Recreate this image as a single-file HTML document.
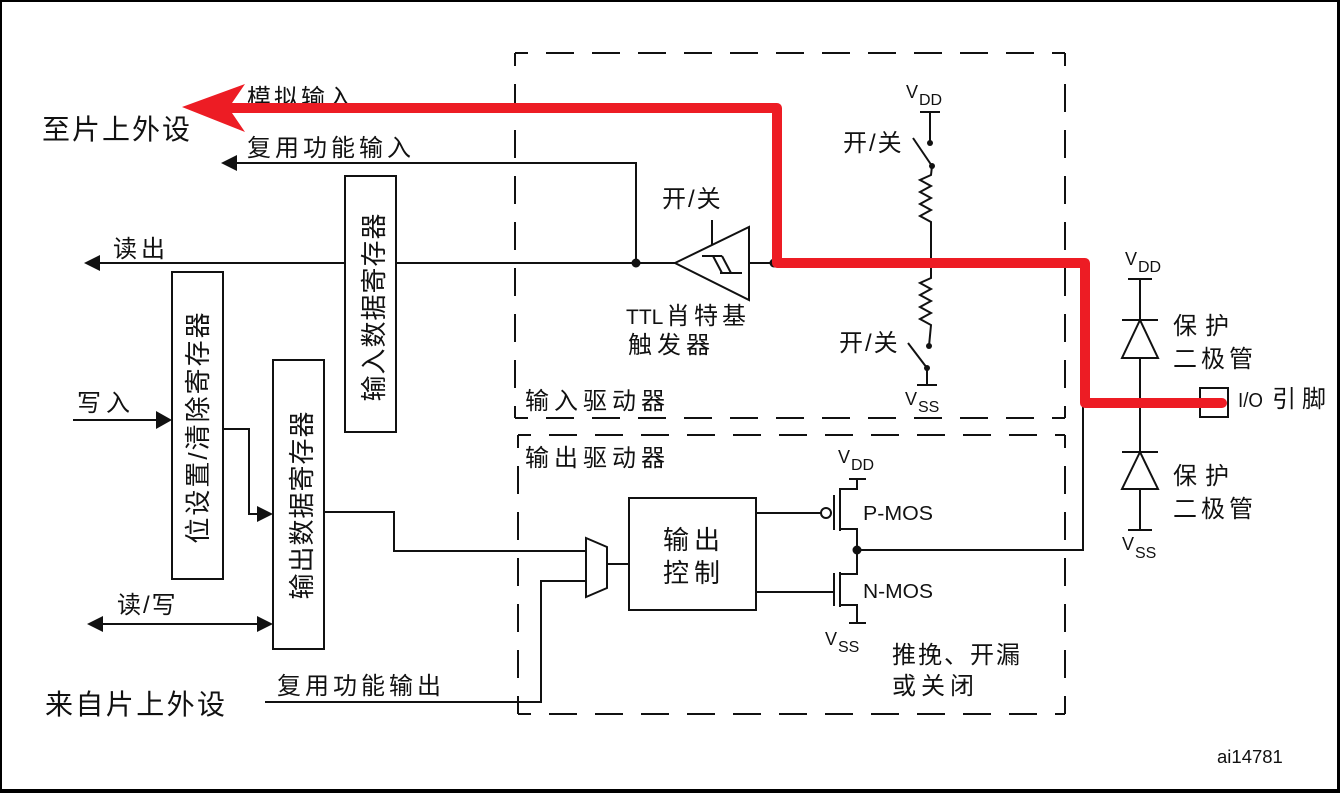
<!DOCTYPE html>
<html><head><meta charset="utf-8"><style>
html,body{margin:0;padding:0;background:#fff;}
svg{display:block;}
text{font-family:"Liberation Sans","Noto Sans CJK SC",sans-serif;fill:#111;}
.c{font-size:24px;}
.l{font-family:"Liberation Sans",sans-serif;}
</style></head><body>
<svg width="1340" height="793" viewBox="0 0 1340 793" xmlns="http://www.w3.org/2000/svg">
<rect x="0" y="0" width="1340" height="793" fill="#fff"/>
<!-- frame -->
<rect x="0" y="0" width="1340" height="2" fill="#000"/>
<rect x="0" y="0" width="2" height="793" fill="#000"/>
<rect x="1337" y="0" width="3" height="793" fill="#000"/>
<rect x="0" y="789" width="1340" height="4" fill="#000"/>

<g fill="none" stroke="#111" stroke-width="2">
<!-- dashed boxes -->
<g stroke-dasharray="28 18">
<line x1="515" y1="53" x2="1065" y2="53" stroke-dashoffset="15"/>
<line x1="515" y1="53" x2="515" y2="418" stroke-dashoffset="15"/>
<line x1="515" y1="418" x2="1065" y2="418" stroke-dashoffset="15"/>
<line x1="1065" y1="53" x2="1065" y2="418" stroke-dashoffset="15"/>
<line x1="518" y1="435" x2="1065" y2="435" stroke-dashoffset="15"/>
<line x1="518" y1="435" x2="518" y2="714" stroke-dashoffset="15"/>
<line x1="518" y1="714" x2="1065" y2="714" stroke-dashoffset="15"/>
<line x1="1065" y1="435" x2="1065" y2="714" stroke-dashoffset="15"/>
</g>
<!-- register boxes -->
<rect x="345" y="176" width="51" height="256"/>
<rect x="172" y="272" width="51" height="307"/>
<rect x="273" y="360" width="51" height="289"/>
<rect x="629" y="498" width="127" height="112"/>
<!-- wires -->
<polyline points="237,163 636,163 636,263"/>
<line x1="100" y1="263" x2="345" y2="263"/>
<line x1="396" y1="263" x2="675" y2="263"/>
<line x1="749" y1="263" x2="777" y2="263"/>
<line x1="73" y1="420" x2="156" y2="420"/>
<polyline points="223,429 249,429 249,514 257,514"/>
<line x1="103" y1="624" x2="257" y2="624"/>
<polyline points="324,512 394,512 394,551 586,551"/>
<polyline points="265,702 541,702 541,581 586,581"/>
<line x1="607" y1="564" x2="629" y2="564"/>
<!-- mux -->
<polygon points="586,538 607,547 607,588 586,597" fill="#fff"/>
<!-- schmitt trigger -->
<polygon points="675,263 749,227 749,300" fill="#fff"/>
<line x1="712" y1="220" x2="712" y2="245"/>
<polyline points="702,256 722,256"/>
<line x1="713" y1="256" x2="722" y2="273"/>
<line x1="722" y1="256" x2="731" y2="273"/>
<line x1="720" y1="273" x2="742" y2="273"/>
<!-- pull-up/down -->
<line x1="920" y1="112" x2="940" y2="112"/>
<line x1="930" y1="112" x2="930" y2="143"/>
<line x1="913" y1="138" x2="932" y2="166"/>
<polyline points="932,166 931,175 920,180 931,186 920,192 931,198 920,204 931,210 920,216 931,222 931,278 920,283 931,289 920,295 931,301 920,307 931,313 920,319 931,325 929,346"/>
<line x1="908" y1="343" x2="927" y2="368"/>
<line x1="927" y1="368" x2="927" y2="385"/>
<line x1="917" y1="385" x2="937" y2="385"/>
<!-- MOS -->
<line x1="756" y1="513" x2="821" y2="513"/>
<circle cx="826" cy="513" r="5" fill="#fff"/>
<line x1="834" y1="495" x2="834" y2="530"/>
<line x1="840" y1="488" x2="840" y2="531"/>
<polyline points="840,489 857,489 857,479"/>
<line x1="849" y1="479" x2="866" y2="479"/>
<polyline points="840,529 857,529 857,550"/>
<line x1="756" y1="592" x2="834" y2="592"/>
<line x1="834" y1="573" x2="834" y2="606"/>
<line x1="840" y1="572" x2="840" y2="607"/>
<polyline points="840,574 857,574 857,550"/>
<polyline points="840,605 857,605 857,623"/>
<line x1="849" y1="623" x2="866" y2="623"/>
<polyline points="857,550 1083,550 1083,403"/>
<!-- diodes -->
<line x1="1140" y1="279" x2="1140" y2="530"/>
<line x1="1128" y1="279" x2="1152" y2="279"/>
<line x1="1122" y1="320" x2="1158" y2="320"/>
<polygon points="1140,320 1122,358 1158,358" fill="#fff"/>
<line x1="1122" y1="452" x2="1158" y2="452"/>
<polygon points="1140,452 1122,489 1158,489" fill="#fff"/>
<line x1="1128" y1="530" x2="1152" y2="530"/>
<rect x="1200" y="388" width="28" height="29" fill="#fff"/>
</g>
<!-- arrowheads & dots -->
<g fill="#111">
<polygon points="221,163 237,155 237,171"/>
<polygon points="84,263 100,255 100,271"/>
<polygon points="172,420 156,411 156,429"/>
<polygon points="273,514 257,506 257,522"/>
<polygon points="87,624 103,616 103,632"/>
<polygon points="273,624 257,616 257,632"/>
<circle cx="636" cy="263" r="4.5"/>
<circle cx="774" cy="263" r="4.5"/>
<circle cx="930" cy="143" r="3"/>
<circle cx="932" cy="166" r="3"/>
<circle cx="929" cy="346" r="3"/>
<circle cx="927" cy="368" r="3"/>
<circle cx="930" cy="263" r="3"/>
<circle cx="857" cy="550" r="4.5"/>
</g>

<!-- texts -->
<text x="247" y="106" class="c" style="letter-spacing:3px">模拟输入</text>
<text x="42" y="139" style="font-size:28px;letter-spacing:2px">至片上外设</text>
<text x="247" y="156" class="c" style="letter-spacing:4px">复用功能输入</text>
<text x="113" y="257" class="c" style="letter-spacing:4px">读出</text>
<text x="77" y="411" class="c" style="letter-spacing:5px">写入</text>
<text x="117" y="613" class="c" style="letter-spacing:2px">读/写</text>
<text x="45" y="714" style="font-size:28px;letter-spacing:2.4px">来自片上外设</text>
<text x="277" y="694" class="c" style="letter-spacing:4px">复用功能输出</text>
<text x="843" y="151" class="c" style="letter-spacing:2px">开/关</text>
<text x="839" y="351" class="c" style="letter-spacing:2px">开/关</text>
<text x="662" y="207" class="c" style="letter-spacing:2px">开/关</text>
<text x="626" y="324" class="c"><tspan style="font-size:21px">TTL</tspan><tspan x="666" style="letter-spacing:4px">肖特基</tspan></text>
<text x="628" y="353" class="c" style="letter-spacing:5px">触发器</text>
<text x="525" y="409" class="c" style="letter-spacing:5px">输入驱动器</text>
<text x="525" y="466" class="c" style="letter-spacing:5px">输出驱动器</text>
<text x="663" y="549" style="font-size:26px;letter-spacing:5px">输出</text>
<text x="663" y="582" style="font-size:26px;letter-spacing:5px">控制</text>
<text x="1173" y="334" class="c" style="letter-spacing:8px">保护</text>
<text x="1173" y="367" class="c" style="letter-spacing:4px">二极管</text>
<text x="1173" y="484" class="c" style="letter-spacing:8px">保护</text>
<text x="1173" y="517" class="c" style="letter-spacing:4px">二极管</text>
<text x="1238" y="407" class="l" style="font-size:20px" textLength="25" lengthAdjust="spacingAndGlyphs">I/O</text>
<text x="1272" y="407" class="c" style="letter-spacing:6px">引脚</text>
<text x="892" y="663" class="c" style="letter-spacing:2px">推挽、开漏</text>
<text x="892" y="694" class="c" style="letter-spacing:5px">或关闭</text>
<text x="1217" y="763" class="l" style="font-size:18.5px">ai14781</text>

<!-- V labels -->
<g class="l">
<text x="906" y="98" class="l" style="font-size:18px">V</text><text x="919" y="105" class="l" style="font-size:16px">DD</text>
<text x="905" y="405" class="l" style="font-size:18px">V</text><text x="918" y="412" class="l" style="font-size:16px">SS</text>
<text x="1125" y="265" class="l" style="font-size:18px">V</text><text x="1138" y="272" class="l" style="font-size:16px">DD</text>
<text x="1122" y="550" class="l" style="font-size:18px">V</text><text x="1135" y="558" class="l" style="font-size:16px">SS</text>
<text x="838" y="463" class="l" style="font-size:18px">V</text><text x="851" y="470" class="l" style="font-size:16px">DD</text>
<text x="825" y="645" class="l" style="font-size:18px">V</text><text x="838" y="652" class="l" style="font-size:16px">SS</text>
<text x="863" y="520" class="l" style="font-size:20px" textLength="70" lengthAdjust="spacingAndGlyphs">P-MOS</text>
<text x="863" y="598" class="l" style="font-size:20px" textLength="70" lengthAdjust="spacingAndGlyphs">N-MOS</text>
</g>

<!-- vertical register labels -->
<text x="383" y="307" transform="rotate(-90 383 307)" text-anchor="middle" style="font-size:26px;letter-spacing:1px">输入数据寄存器</text>
<text x="207" y="427" transform="rotate(-90 207 427)" text-anchor="middle" style="font-size:26px;letter-spacing:2px">位设置/清除寄存器</text>
<text x="311" y="505" transform="rotate(-90 311 505)" text-anchor="middle" style="font-size:26px;letter-spacing:1px">输出数据寄存器</text>

<!-- red path -->
<path d="M232 108 H777 V263 H1085 V403 H1222" fill="none" stroke="#ED1C24" stroke-width="10" stroke-linejoin="round" stroke-linecap="round"/>
<polygon points="182,107 245,84 232,103 232,113 245,132" fill="#ED1C24"/>
</svg>
</body></html>
